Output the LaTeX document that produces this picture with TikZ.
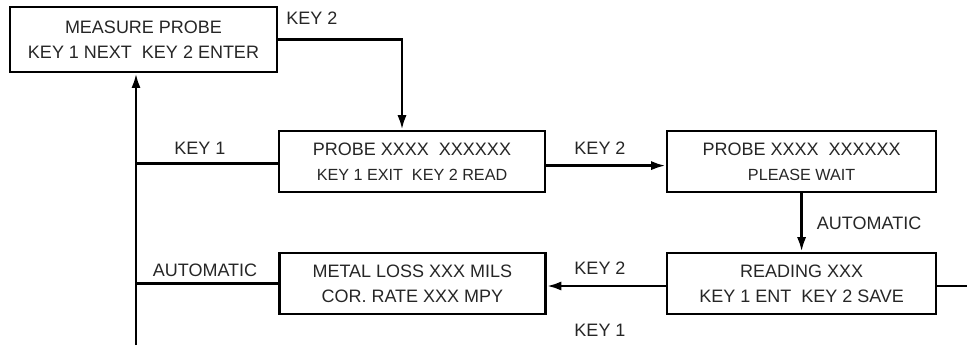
\documentclass[tikz,border=0pt]{standalone}
\usepackage{fontspec}
\setmainfont{Liberation Sans}
\usetikzlibrary{arrows.meta}

\tikzset{
	screen/.style={draw, line width=1.6pt, minimum width=6.65cm, minimum height=1.525cm, align=center, inner sep=0pt, font=\fontsize{12.8}{17.8}\selectfont},
	keylabel/.style={font=\fontsize{12.8}{15}\selectfont},
	link/.style={line width=1.6pt},
	arrowlink/.style={link, -{Latex[length=10pt, width=6.5pt]}, shorten >=0.5pt},
}

\begin{document}
\begin{tikzpicture}[text=black!85]
	\useasboundingbox (0,0) rectangle (24.175,-8.625);

	\node[screen, minimum width=6.675cm, minimum height=1.625cm] (measure) at (3.5875,-0.9875) {MEASURE PROBE\\KEY 1 NEXT~~KEY 2 ENTER};
	\node[screen] (probe) at (10.3,-4.04) {PROBE XXXX~~XXXXXX\\{\fontsize{11.5}{14}\selectfont KEY 1 EXIT~~KEY 2 READ}};
	\node[screen, minimum width=6.725cm] (wait) at (20.04,-4.04) {PROBE XXXX~~XXXXXX\\{\fontsize{11.5}{14}\selectfont PLEASE WAIT}};
	\node[screen, minimum width=6.725cm] (reading) at (20.04,-7.09) {READING XXX\\KEY 1 ENT~~KEY 2 SAVE};
	\node[screen] (metal) at (10.31,-7.09) {METAL LOSS XXX MILS\\COR. RATE XXX MPY};

	\coordinate (loopbot) at (3.4,-8.625);
	\coordinate (rightend) at (24.175,-7.15);

	\draw[arrowlink] (measure.east) -| ([xshift=-0.25cm]probe.north);
	\node[keylabel] (keyA) at (7.8,-0.45) {KEY 2};

	\draw[arrowlink] ([yshift=-0.1cm]probe.east) -- ([yshift=-0.1cm]wait.west);
	\node[keylabel] (keyB) at (15.0,-3.7) {KEY 2};

	\draw[arrowlink] (wait.south) -- (reading.north);
	\node[keylabel, anchor=west] (autoA) at (20.3,-5.575) {AUTOMATIC};

	\draw[arrowlink] (reading.west |- rightend) -- (metal.east |- rightend);
	\node[keylabel] (keyC) at (15.0,-6.7) {KEY 2};

	\draw[link] (reading.east |- rightend) -- (rightend);
	\node[keylabel] (keyD) at (15.0,-8.25) {KEY 1};

	\draw[link] (metal.west) -- (metal.west -| loopbot);
	\node[keylabel] (autoB) at (5.125,-6.75) {AUTOMATIC};

	\draw[link] ([yshift=-0.05cm]probe.west) -- ([yshift=-0.05cm]probe.west -| loopbot);
	\node[keylabel] (keyE) at (5.0,-3.7) {KEY 1};

	\draw[arrowlink] (loopbot) -- (loopbot |- measure.south);
\end{tikzpicture}
\end{document}
